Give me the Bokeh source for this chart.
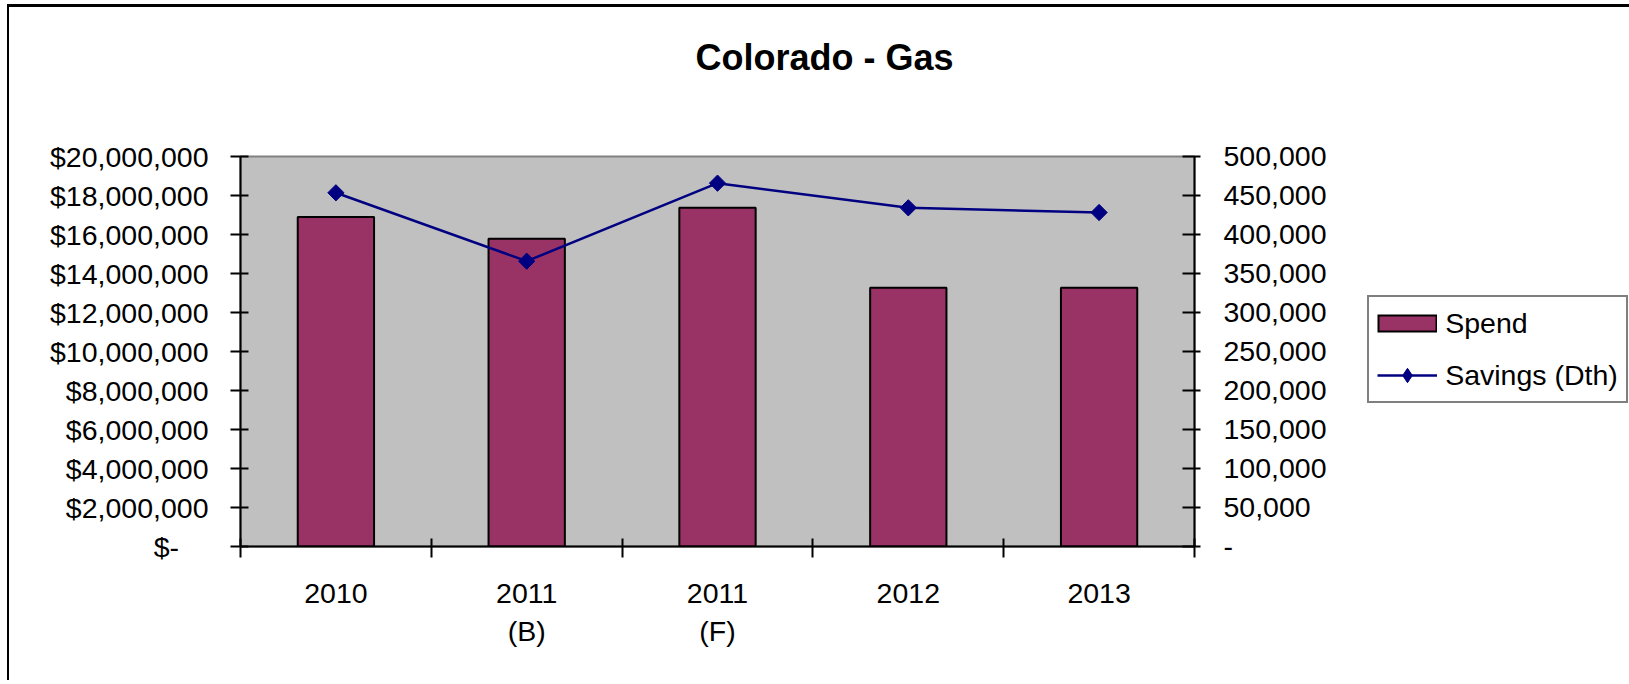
import math
from bokeh.plotting import figure
from bokeh.models import (Range1d, LinearAxis, FixedTicker, SingleIntervalTicker,
                          NumeralTickFormatter, Legend, LegendItem, Title)
from bokeh.embed import file_html
from bokeh.resources import INLINE

# ---- data ----
categories = ["2010", "2011\n(B)", "2011\n(F)", "2012", "2013"]
spend = [16_900_000, 15_780_000, 17_370_000, 13_270_000, 13_270_000]
savings = [453_500, 365_800, 465_800, 434_200, 428_200]
spend_ticks_max = 20_000_000
savings_ticks_max = 500_000

FONT = "Liberation Sans"
FS = "28.5px"
MAROON = "#993366"
NAVY = "#000080"

x = [i + 0.5 for i in range(len(categories))]
no_y = [float("nan")] * len(categories)   # legend-only renderers draw nothing in the plot

p = figure(output_backend="svg", toolbar_location=None,
           frame_width=954, frame_height=390,
           x_range=Range1d(0, len(categories)), y_range=Range1d(0, spend_ticks_max),
           min_border_left=240, min_border_right=432, min_border_top=156, min_border_bottom=134,
           background_fill_color="#C0C0C0", border_fill_color="white", border_fill_alpha=0,
           outline_line_color="#808080", outline_line_width=2)
p.styles = {"box-shadow": "inset 7px 4px 0 0 white, inset 9px 7px 0 0 black"}
p.extra_y_ranges = {"sav": Range1d(0, savings_ticks_max)}
p.xgrid.visible = False
p.ygrid.visible = False

# x axis
xa = p.xaxis[0]
xa.ticker = FixedTicker(ticks=x, minor_ticks=list(range(len(categories) + 1)))
xa.major_label_overrides = {xi: c for xi, c in zip(x, categories)}
xa.major_tick_in = 0
xa.major_tick_out = 0
xa.minor_tick_in = 8
xa.minor_tick_out = 11
xa.minor_tick_line_color = "black"
xa.minor_tick_line_width = 2
xa.axis_line_color = "black"
xa.axis_line_width = 2
xa.major_label_text_font = FONT
xa.major_label_text_font_size = FS
xa.major_label_text_color = "black"
xa.major_label_standoff = 19
xa.major_label_text_line_height = 1.2

# left axis
ya = p.yaxis[0]
ya.ticker = SingleIntervalTicker(interval=2_000_000)
ya.formatter = NumeralTickFormatter(format="$0,0")
ya.major_label_overrides = {0: "$-\u00a0\u00a0\u00a0\u2009"}
ya.major_tick_in = 8
ya.major_tick_out = 10
ya.major_tick_line_color = "black"
ya.major_tick_line_width = 2
ya.minor_tick_line_color = None
ya.axis_line_color = "black"
ya.axis_line_width = 2
ya.major_label_text_font = FONT
ya.major_label_text_font_size = FS
ya.major_label_text_color = "black"
ya.major_label_standoff = 22

# right axis
ra = LinearAxis(y_range_name="sav", ticker=SingleIntervalTicker(interval=50_000),
                formatter=NumeralTickFormatter(format="0,0"),
                major_label_overrides={0: "-"})
ra.major_tick_in = 12
ra.major_tick_out = 6
ra.major_tick_line_color = "black"
ra.major_tick_line_width = 2
ra.minor_tick_line_color = None
ra.axis_line_color = "black"
ra.axis_line_width = 2
ra.major_label_text_font = FONT
ra.major_label_text_font_size = FS
ra.major_label_text_color = "black"
ra.major_label_standoff = 23
p.add_layout(ra, "right")

bars = p.vbar(x=x, top=spend, width=0.4, fill_color=MAROON,
              line_color="black", line_width=2)
ln = p.line(x, savings, y_range_name="sav", line_color=NAVY, line_width=2.5)
pts = p.scatter(x, savings, y_range_name="sav", marker="square", size=11.5,
                angle=math.pi / 4, fill_color=NAVY, line_color=NAVY)

# legend-only glyphs: bordered swatch and diamond marker
sw_border = p.line(x, no_y, line_color="black", line_width=18)
sw_fill = p.line(x, no_y, line_color=MAROON, line_width=14, line_dash="0 2 56 100")
leg_diamond = p.scatter(x, no_y, y_range_name="sav", marker="diamond", size=14,
                        fill_color=NAVY, line_color=NAVY)

legend = Legend(items=[LegendItem(label="Spend", renderers=[sw_border, sw_fill]),
                       LegendItem(label="Savings (Dth)", renderers=[ln, leg_diamond])],
                location=(-182, 143), orientation="vertical",
                glyph_width=60, glyph_height=36, label_standoff=8,
                padding=8, spacing=16, margin=0,
                border_line_color="black", border_line_width=2,
                background_fill_color="white", background_fill_alpha=1,
                label_text_font=FONT, label_text_font_size=FS,
                label_text_color="black")
p.add_layout(legend, "right")

title = Title(text="Colorado - Gas\n", align="left", offset=455, standoff=71,
              vertical_align="top",
              text_font=FONT, text_font_size="36px", text_font_style="bold",
              text_color="black")
p.add_layout(title, "above")

open("out.html", "w").write(file_html(p, INLINE))
